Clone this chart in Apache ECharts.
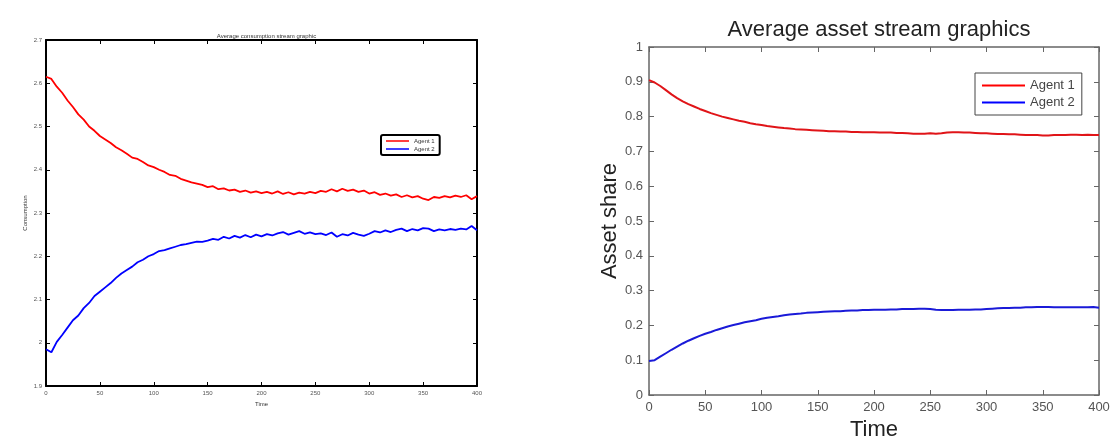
<!DOCTYPE html>
<html>
<head>
<meta charset="utf-8">
<script src="https://cdn.jsdelivr.net/npm/echarts@6/dist/echarts.min.js"></script>
<style>
    html, body {margin: 0; padding: 0; background: #fff;}
    #main {width: 1117px; height: 446px;}
</style>
</head>
<body>
<div id="main"></div>
<script>
    // time steps 0..400, every 5
    var time = [];
    for (var t = 0; t <= 400; t += 5) time.push(t);

    // left: average consumption
    var consAgent1 = [2.615, 2.610, 2.592, 2.578, 2.560, 2.545, 2.528, 2.516, 2.500, 2.490,
        2.478, 2.470, 2.462, 2.452, 2.445, 2.437, 2.428, 2.425, 2.418, 2.410,
        2.406, 2.400, 2.395, 2.388, 2.386, 2.379, 2.375, 2.371, 2.368, 2.365,
        2.360, 2.362, 2.355, 2.357, 2.352, 2.354, 2.349, 2.352, 2.347, 2.350,
        2.346, 2.349, 2.345, 2.350, 2.344, 2.348, 2.343, 2.347, 2.345, 2.349,
        2.346, 2.351, 2.349, 2.355, 2.350, 2.356, 2.351, 2.354, 2.349, 2.352,
        2.345, 2.348, 2.342, 2.345, 2.340, 2.343, 2.337, 2.341, 2.336, 2.339,
        2.333, 2.330, 2.337, 2.335, 2.339, 2.336, 2.340, 2.337, 2.341, 2.332, 2.339];
    var consAgent2 = [1.985, 1.978, 2.002, 2.018, 2.035, 2.052, 2.063, 2.080, 2.092, 2.108,
        2.118, 2.128, 2.138, 2.150, 2.160, 2.168, 2.176, 2.186, 2.192, 2.200,
        2.205, 2.212, 2.214, 2.218, 2.222, 2.226, 2.228, 2.231, 2.234, 2.233,
        2.236, 2.240, 2.238, 2.245, 2.241, 2.247, 2.243, 2.249, 2.244, 2.250,
        2.246, 2.251, 2.248, 2.253, 2.256, 2.250, 2.254, 2.258, 2.252, 2.255,
        2.251, 2.253, 2.249, 2.255, 2.245, 2.251, 2.248, 2.254, 2.250, 2.247,
        2.252, 2.258, 2.255, 2.260, 2.256, 2.261, 2.264, 2.258, 2.263, 2.260,
        2.265, 2.264, 2.258, 2.262, 2.260, 2.263, 2.261, 2.264, 2.262, 2.270, 2.260];

    // right: average asset share
    var assetAgent1 = [0.905, 0.898, 0.888, 0.876, 0.864, 0.853, 0.844, 0.836, 0.829, 0.822,
        0.816, 0.810, 0.805, 0.800, 0.796, 0.792, 0.788, 0.785, 0.781, 0.778,
        0.776, 0.773, 0.771, 0.769, 0.767, 0.766, 0.764, 0.763, 0.762, 0.761,
        0.760, 0.759, 0.758, 0.758, 0.757, 0.757, 0.756, 0.756, 0.755, 0.755,
        0.755, 0.754, 0.754, 0.754, 0.753, 0.753, 0.752, 0.751, 0.751, 0.751,
        0.752, 0.751, 0.752, 0.754, 0.755, 0.755, 0.754, 0.754, 0.753, 0.752,
        0.752, 0.751, 0.750, 0.750, 0.749, 0.749, 0.748, 0.747, 0.747, 0.747,
        0.746, 0.746, 0.747, 0.747, 0.747, 0.748, 0.748, 0.747, 0.748, 0.747, 0.747];
    var assetAgent2 = [0.098, 0.100, 0.110, 0.120, 0.130, 0.139, 0.148, 0.156, 0.163, 0.170,
        0.176, 0.181, 0.187, 0.192, 0.197, 0.201, 0.205, 0.209, 0.212, 0.215,
        0.219, 0.222, 0.224, 0.226, 0.229, 0.231, 0.233, 0.234, 0.236, 0.237,
        0.238, 0.239, 0.240, 0.241, 0.241, 0.242, 0.243, 0.243, 0.244, 0.244,
        0.245, 0.245, 0.245, 0.246, 0.246, 0.247, 0.247, 0.247, 0.248, 0.248,
        0.247, 0.245, 0.244, 0.244, 0.244, 0.245, 0.245, 0.245, 0.246, 0.246,
        0.247, 0.248, 0.249, 0.250, 0.250, 0.251, 0.251, 0.252, 0.252, 0.253,
        0.253, 0.253, 0.252, 0.252, 0.252, 0.252, 0.252, 0.252, 0.252, 0.253, 0.251];

    function pairs(vals) {
        return vals.map(function (v, i) { return [time[i], v]; });
    }

    var font = 'Liberation Sans, Arial, sans-serif';

    // one side of the matlab-style box: line + inward ticks
    function boxAxis(grid, pos, opts, c, w, tickLen, fs, labels) {
        return {
            type: 'value', gridIndex: grid, position: pos,
            min: opts.min, max: opts.max, interval: opts.interval,
            axisLine: {show: true, onZero: false, lineStyle: {color: c, width: w}},
            axisTick: {show: true, inside: true, length: tickLen, lineStyle: {color: c, width: 1}},
            axisLabel: {show: labels, fontSize: fs, color: opts.labelColor, fontFamily: font, margin: opts.margin},
            splitLine: {show: false}
        };
    }

    var myChart = echarts.init(document.getElementById('main'));
    var option = {
        animation: false,
        backgroundColor: '#fff',
        title: [
            {text: 'Average consumption stream graphic', left: 261.5, top: 28, textAlign: 'center',
                textStyle: {fontSize: 6, fontWeight: 'normal', color: '#333', fontFamily: font}},
            {text: 'Average asset stream graphics', left: 874, top: 14, textAlign: 'center',
                textStyle: {fontSize: 22, fontWeight: 'normal', color: '#222', fontFamily: font}}
        ],
        legend: [
            {data: ['Agent 1', 'Agent 2'], orient: 'vertical', left: 381, top: 135,
                padding: [3, 5], itemGap: 2, itemWidth: 23, itemHeight: 1.5, icon: 'rect',
                borderColor: '#000', borderWidth: 2, borderRadius: 2,
                textStyle: {fontSize: 6, color: '#333', fontFamily: font}},
            {data: ['Agent 1', 'Agent 2'], orient: 'vertical', left: 975, top: 73,
                padding: [6, 7], itemGap: 4, itemWidth: 43, itemHeight: 2, icon: 'rect',
                borderColor: '#444', borderWidth: 1,
                textStyle: {fontSize: 13, color: '#444', fontFamily: font}}
        ],
        grid: [
            {left: 46, top: 40, width: 431, height: 346},
            {left: 649, top: 47, width: 450, height: 351}
        ],
        xAxis: [
            Object.assign(boxAxis(0, 'bottom', {min: 0, max: 400, interval: 50, labelColor: '#555', margin: 4}, '#000', 2, 4, 6, true),
                {name: 'Time', nameLocation: 'middle', nameGap: 12,
                    nameTextStyle: {fontSize: 6, color: '#333', fontFamily: font}}),
            boxAxis(0, 'top', {min: 0, max: 400, interval: 50}, '#000', 2, 4, 6, false),
            Object.assign(boxAxis(1, 'bottom', {min: 0, max: 400, interval: 50, labelColor: '#555', margin: 6}, '#666', 1.5, 5, 13, true),
                {name: 'Time', nameLocation: 'middle', nameGap: 24,
                    nameTextStyle: {fontSize: 22, color: '#222', fontFamily: font}}),
            boxAxis(1, 'top', {min: 0, max: 400, interval: 50}, '#666', 1.5, 5, 13, false)
        ],
        yAxis: [
            Object.assign(boxAxis(0, 'left', {min: 1.9, max: 2.7, interval: 0.1, labelColor: '#555', margin: 4}, '#000', 2, 4, 6, true),
                {name: 'Consumption', nameLocation: 'middle', nameGap: 18,
                    nameTextStyle: {fontSize: 6, color: '#333', fontFamily: font}}),
            boxAxis(0, 'right', {min: 1.9, max: 2.7, interval: 0.1}, '#000', 2, 4, 6, false),
            Object.assign(boxAxis(1, 'left', {min: 0, max: 1, interval: 0.1, labelColor: '#555', margin: 6}, '#666', 1.5, 5, 13, true),
                {name: 'Asset share', nameLocation: 'middle', nameGap: 28,
                    nameTextStyle: {fontSize: 22, color: '#222', fontFamily: font}}),
            boxAxis(1, 'right', {min: 0, max: 1, interval: 0.1}, '#666', 1.5, 5, 13, false)
        ],
        series: [
            {name: 'Agent 1', type: 'line', xAxisIndex: 0, yAxisIndex: 0, data: pairs(consAgent1),
                showSymbol: false, lineStyle: {color: '#ff0000', width: 1.8}, itemStyle: {color: '#ff0000'}},
            {name: 'Agent 2', type: 'line', xAxisIndex: 0, yAxisIndex: 0, data: pairs(consAgent2),
                showSymbol: false, lineStyle: {color: '#0000ff', width: 1.8}, itemStyle: {color: '#0000ff'}},
            {name: 'Agent 1', type: 'line', xAxisIndex: 2, yAxisIndex: 2, data: pairs(assetAgent1),
                showSymbol: false, lineStyle: {color: '#e01418', width: 2}, itemStyle: {color: '#e01418'}},
            {name: 'Agent 2', type: 'line', xAxisIndex: 2, yAxisIndex: 2, data: pairs(assetAgent2),
                showSymbol: false, lineStyle: {color: '#1a1ad8', width: 2}, itemStyle: {color: '#1a1ad8'}}
        ]
    };
    myChart.setOption(option);
</script>
</body>
</html>
